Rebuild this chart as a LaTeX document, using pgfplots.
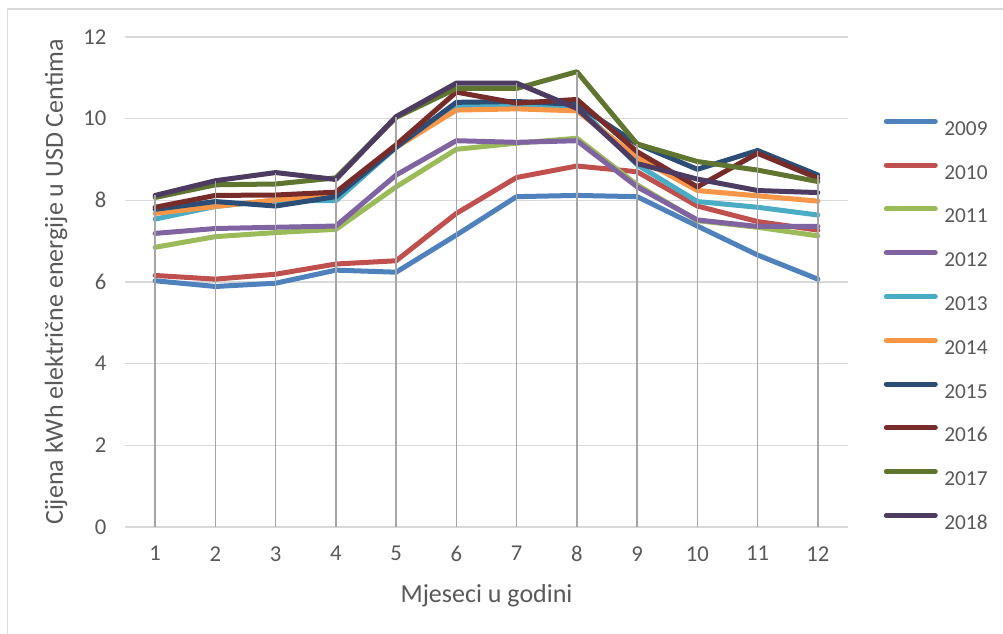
\documentclass[border=0pt]{standalone}
\usepackage{pgfplots}
\pgfplotsset{compat=1.18}
\usepackage{fontspec}
\setmainfont{Carlito}
\definecolor{c2009}{HTML}{4F81BD}
\definecolor{c2010}{HTML}{C0504D}
\definecolor{c2011}{HTML}{9BBB59}
\definecolor{c2012}{HTML}{8064A2}
\definecolor{c2013}{HTML}{4BACC6}
\definecolor{c2014}{HTML}{F79646}
\definecolor{c2015}{HTML}{2C4D75}
\definecolor{c2016}{HTML}{772C2A}
\definecolor{c2017}{HTML}{5F7530}
\definecolor{c2018}{HTML}{4D3B62}
\definecolor{gridc}{HTML}{D9D9D9}
\definecolor{dropc}{HTML}{A6A6A6}
\definecolor{tickc}{HTML}{595959}
\begin{document}
\begin{tikzpicture}
\begin{axis}[
  at={(0,0)}, anchor=south west,
  scale only axis, width=542.25pt, height=367.5pt,
  xmin=0.5, xmax=12.5, ymin=0, ymax=12,
  xtick={1,...,12}, ytick={0,2,...,12},
  axis line style={draw=none},
  ymajorgrids, grid style={draw=gridc, line width=1.1pt},
  major tick length=0pt,
  /pgf/number format/assume math mode=true,
  tick label style={font=\fontsize{17}{20}\selectfont, text=tickc},
  yticklabel style={xshift=-10.5pt},
  xticklabel style={yshift=-11pt},
  xlabel={Mjeseci u godini},
  ylabel={Cijena kWh električne energije u USD Centima},
  label style={font=\fontsize{19.5}{23}\selectfont, text=tickc, inner sep=0pt},
  xlabel style={at={(axis description cs:0.5,-0.1408)}, anchor=center},
  ylabel style={at={(axis description cs:-0.0954,0.5)}, anchor=center},
  legend style={at={(axis description cs:1.0457,0.8333)}, anchor=north west,
    draw=none, fill=none, inner sep=0pt, row sep=20.45pt,
    nodes={inner sep=0pt, text height=12pt, text depth=0pt, font=\fontsize{16}{19}\selectfont, text=tickc}},
  legend cell align=left,
  legend image code/.code={\draw[#1, line width=3.75pt, line cap=round] (1.875pt,4.5pt) -- (38.6pt,4.5pt); \path (0pt,0pt) (43.5pt,0pt);},
  every axis plot/.append style={line width=3.75pt, line join=round, line cap=round, no marks},
]
\addplot[c2009] coordinates {(1,6.03)(2,5.89)(3,5.97)(4,6.29)(5,6.24)(6,7.15)(7,8.09)(8,8.12)(9,8.09)(10,7.37)(11,6.66)(12,6.07)};
\addlegendentry{2009}
\addplot[c2010] coordinates {(1,6.16)(2,6.07)(3,6.19)(4,6.44)(5,6.52)(6,7.68)(7,8.56)(8,8.84)(9,8.70)(10,7.86)(11,7.48)(12,7.27)};
\addlegendentry{2010}
\addplot[c2011] coordinates {(1,6.85)(2,7.11)(3,7.21)(4,7.29)(5,8.33)(6,9.25)(7,9.40)(8,9.52)(9,8.38)(10,7.50)(11,7.34)(12,7.13)};
\addlegendentry{2011}
\addplot[c2012] coordinates {(1,7.19)(2,7.31)(3,7.34)(4,7.37)(5,8.62)(6,9.46)(7,9.42)(8,9.46)(9,8.33)(10,7.52)(11,7.36)(12,7.36)};
\addlegendentry{2012}
\addplot[c2013] coordinates {(1,7.54)(2,7.85)(3,8.00)(4,7.99)(5,9.30)(6,10.30)(7,10.30)(8,10.33)(9,8.87)(10,7.97)(11,7.83)(12,7.64)};
\addlegendentry{2013}
\addplot[c2014] coordinates {(1,7.68)(2,7.85)(3,8.01)(4,8.15)(5,9.30)(6,10.21)(7,10.24)(8,10.19)(9,9.05)(10,8.24)(11,8.11)(12,7.98)};
\addlegendentry{2014}
\addplot[c2015] coordinates {(1,7.78)(2,7.97)(3,7.86)(4,8.09)(5,9.30)(6,10.40)(7,10.42)(8,10.35)(9,9.38)(10,8.76)(11,9.22)(12,8.62)};
\addlegendentry{2015}
\addplot[c2016] coordinates {(1,7.83)(2,8.12)(3,8.13)(4,8.20)(5,9.36)(6,10.65)(7,10.38)(8,10.47)(9,9.19)(10,8.33)(11,9.15)(12,8.54)};
\addlegendentry{2016}
\addplot[c2017] coordinates {(1,8.07)(2,8.38)(3,8.40)(4,8.55)(5,10.03)(6,10.74)(7,10.74)(8,11.15)(9,9.38)(10,8.95)(11,8.74)(12,8.46)};
\addlegendentry{2017}
\addplot[c2018] coordinates {(1,8.12)(2,8.48)(3,8.68)(4,8.51)(5,10.05)(6,10.87)(7,10.87)(8,10.25)(9,8.90)(10,8.52)(11,8.24)(12,8.19)};
\addlegendentry{2018}
\addplot[forget plot, ycomb, draw=dropc, line width=1.3pt, line cap=butt] coordinates {(1,8.12)(2,8.48)(3,8.68)(4,8.55)(5,10.05)(6,10.87)(7,10.87)(8,11.15)(9,9.38)(10,8.95)(11,9.22)(12,8.62)};
\end{axis}
\draw[gridc, line width=1pt] (-88.1pt,-80.25pt) -- (-88.1pt,388.5pt) -- (658.5pt,388.5pt);
\pgfresetboundingbox
\path[use as bounding box] (-93.75pt,-80.25pt) rectangle (658.5pt,395.25pt);
\end{tikzpicture}
\end{document}
